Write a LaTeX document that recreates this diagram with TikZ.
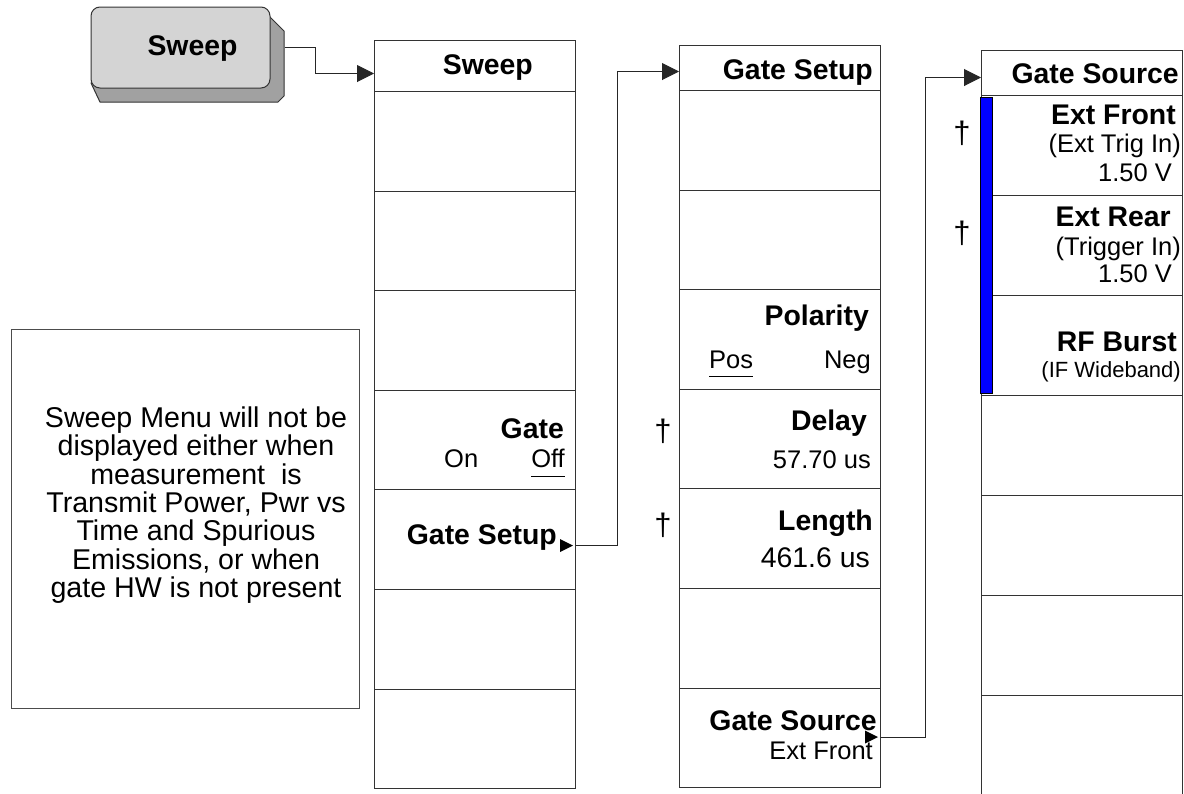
\documentclass[tikz,border=0pt]{standalone}
\usepackage{fontspec}
\setmainfont{Liberation Sans}
\usetikzlibrary{arrows.meta}

\begin{document}
\begin{tikzpicture}[x=1pt, y=-1pt,
    cell/.style={draw=black!80, line width=1pt, minimum width=201pt, anchor=north west, inner sep=0pt},
    key/.style={draw=black!80, line width=1pt, rounded corners=9pt, fill=black!17, minimum width=179pt, minimum height=81pt},
    keyshadow/.style={draw=black!80, line width=1pt, fill=black!37, line join=round},
    note/.style={draw=black!70, line width=1pt, minimum width=348pt, minimum height=379pt},
    bold/.style={font=\fontsize{28.4}{30}\selectfont\bfseries, inner sep=0pt},
    txt/.style={font=\fontsize{25.5}{28}\selectfont, inner sep=0pt},
    txtl/.style={font=\fontsize{28.4}{30}\selectfont, inner sep=0pt},
    dag/.style={font=\fontsize{31}{32}\selectfont, inner sep=0pt, anchor=base},
    uline/.style={draw=black, line width=1pt},
    conn/.style={draw=black!85, line width=1pt, -{Triangle[length=17pt,width=17pt]}}
]
\useasboundingbox (0,0) rectangle (1184,793);

% hardkey
\filldraw[keyshadow] (270,17) -- (284,31) -- (284,96) -- (278,102) -- (100,102) -- (91,83) -- cycle;
\node[key] (key) at (180.5,47.5) {};
\node[bold, anchor=base] (keytxt) at (192.5,55) {Sweep};

% note
\node[note] (note) at (185,518.5) {};
\node[align=center, font=\fontsize{28.6}{28.3}\selectfont, inner sep=0pt] (notetxt) at (196,505) {Sweep Menu will not be\\ displayed either when\\ measurement\ \ is\\ Transmit Power, Pwr vs\\ Time and Spurious\\ Emissions, or when\\ gate HW is not present};

% menu columns
\foreach \c/\x/\t/\h/\s in {a/374/40/51/99.6, b/679/45/45/99.6, c/981/50/45/100}{
  \node[cell, minimum height=\h pt] (\c0) at (\x,\t) {};
  \foreach \i in {1,...,7}
    \node[cell, minimum height=\s pt] (\c\i) at (\x,{\t+\h+(\i-1)*\s}) {};
}
\node[draw=black, fill=blue, line width=1pt, minimum width=12pt, minimum height=296pt, anchor=north west, inner sep=0pt] (selbar) at (980,97) {};

% Sweep menu
\node[bold, anchor=base east] (sweephdr) at (533,74) {Sweep};
\node[bold, anchor=base east] (gate) at (564,438) {Gate};
\node[txt, anchor=base west] (gon) at (444,467) {On};
\node[txt, anchor=base east] (goff) at (565,467) {Off};
\draw[uline] ([yshift=-9pt]goff.base west) -- ([yshift=-9pt]goff.base east);
\node[bold, anchor=base east] (gsetup) at (557,544) {Gate Setup};
\fill (560,539) -- (573,545.5) -- (560,552) -- cycle;

% Gate Setup menu
\node[bold, anchor=base east] (setuphdr) at (873,79) {Gate Setup};
\node[bold, anchor=base east] (pol) at (869,325) {Polarity};
\node[txt, anchor=base west] (pos) at (709,368) {Pos};
\node[txt, anchor=base east] (neg) at (871,368) {Neg};
\draw[uline] ([yshift=-8pt]pos.base west) -- ([yshift=-8pt]pos.base east);
\node[dag] (dgdelay) at (663,441) {†};
\node[bold, anchor=base east] (delay) at (867,430) {Delay};
\node[txt, anchor=base east] (delayval) at (871,468) {57.70 us};
\node[dag] (dglen) at (663,535) {†};
\node[bold, anchor=base east] (len) at (873,530) {Length};
\node[txtl, anchor=base east] (lenval) at (870,567) {461.6 us};
\node[bold, anchor=base east] (gsrc) at (877,730) {Gate Source};
\node[txt, anchor=base east] (gsrcval) at (873,759) {Ext Front};
\fill (865,730.5) -- (878,737) -- (865,743.5) -- cycle;

% Gate Source menu
\node[bold, anchor=base east] (srchdr) at (1179,83) {Gate Source};
\node[dag] (dgfront) at (962,143) {†};
\node[bold, anchor=base east] (front) at (1176,124) {Ext Front};
\node[txt, anchor=base east] (frontin) at (1181,152) {(Ext Trig In)};
\node[txt, anchor=base east] (frontlvl) at (1172,181) {1.50 V};
\node[dag] (dgrear) at (962,243) {†};
\node[bold, anchor=base east] (rear) at (1171,226) {Ext Rear};
\node[txt, anchor=base east] (rearin) at (1181,255) {(Trigger In)};
\node[txt, anchor=base east] (rearlvl) at (1172,282) {1.50 V};
\node[bold, anchor=base east] (rf) at (1177,351) {RF Burst};
\node[txt, anchor=base east, font=\fontsize{22}{24}\selectfont] (rfsrc) at (1181,377) {(IF Wideband)};

% connectors
\draw[conn] ([xshift=14pt]key.east) -- ++(31,0) |- ([yshift=-7.5pt]a0.west);
\draw[conn] ([yshift=-6pt]a5.east) -- ++(41,0) |- ([yshift=-3.5pt]b0.west);
\draw[conn] (b7.east) -- ++(44,0) |- ([yshift=-4.5pt]c0.west);
\end{tikzpicture}
\end{document}
